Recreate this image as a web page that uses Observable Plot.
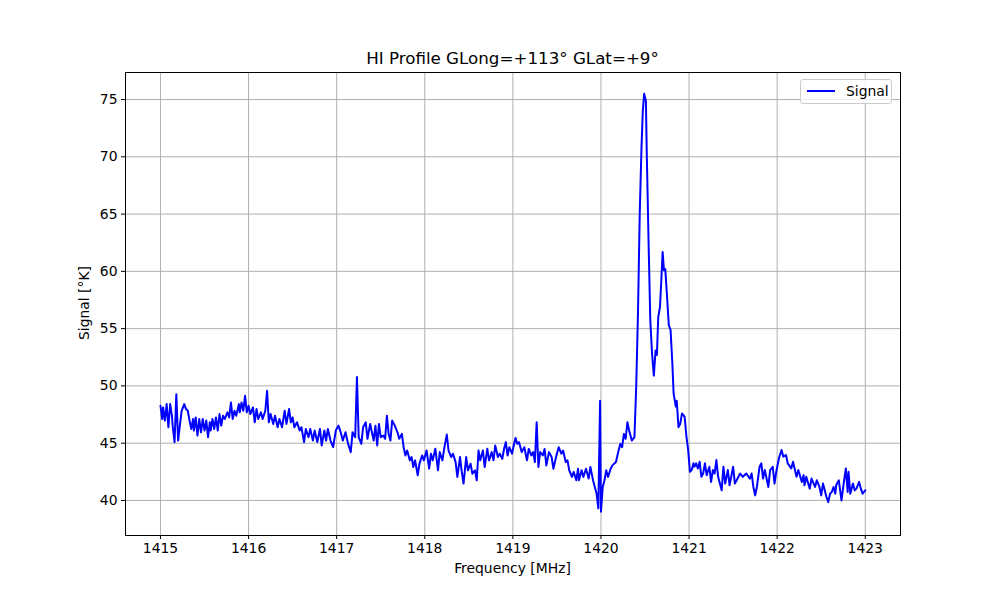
<!DOCTYPE html>
<html>
<head>
<meta charset="utf-8">
<script src="https://cdn.jsdelivr.net/npm/d3@7"></script>
<script src="https://cdn.jsdelivr.net/npm/@observablehq/plot@0.6"></script>
<style>
  html, body { margin: 0; padding: 0; background: white; }
  #wrap { position: relative; width: 1000px; height: 600px; font-family: "DejaVu Sans", sans-serif; color: black; }
  .lbl { position: absolute; white-space: nowrap; }
  #title { left: 0; width: 1025px; text-align: center; top: 48px; font-size: 16.7px; }
  #xlabel { left: 0; width: 1025px; text-align: center; top: 560px; font-size: 13.9px; }
  #ylabel { left: 84px; top: 303px; font-size: 13.9px; transform: translate(-50%, -50%) rotate(-90deg); }
  #legend { position: absolute; left: 800px; top: 79px; width: 92px; height: 25px; border: 1px solid #cccccc; border-radius: 3px; background: rgba(255,255,255,0.8); box-sizing: border-box; }
  #legend .ln { position: absolute; left: 6px; top: 10px; width: 28px; height: 2px; background: blue; }
  #legend .tx { position: absolute; left: 45px; top: 3px; font-size: 13.9px; }
</style>
</head>
<body>
<div id="wrap">
  <div id="chart"></div>
  <div class="lbl" id="title">HI Profile GLong=+113° GLat=+9°</div>
  <div class="lbl" id="xlabel">Frequency [MHz]</div>
  <div class="lbl" id="ylabel">Signal [°K]</div>
  <div id="legend"><div class="ln"></div><div class="tx">Signal</div></div>
</div>
<script>
const xTicks = [1415, 1416, 1417, 1418, 1419, 1420, 1421, 1422, 1423];
const yTicks = [40, 45, 50, 55, 60, 65, 70, 75];

const freq = [
1415.00,1415.02,1415.03,1415.05,1415.07,1415.09,1415.11,1415.13,1415.14,1415.16,
1415.18,1415.20,1415.22,1415.24,1415.27,1415.29,1415.31,1415.33,1415.35,1415.37,
1415.38,1415.40,1415.42,1415.44,1415.46,1415.48,1415.50,1415.52,1415.54,1415.56,
1415.57,1415.59,1415.61,1415.63,1415.65,1415.67,1415.69,1415.71,1415.73,1415.76,
1415.78,1415.80,1415.82,1415.84,1415.86,1415.89,1415.90,1415.92,1415.94,1415.96,
1415.98,1416.00,1416.02,1416.05,1416.07,1416.09,1416.11,1416.14,1416.16,1416.19,
1416.21,1416.23,1416.25,1416.28,1416.30,1416.33,1416.35,1416.38,1416.41,1416.43,
1416.46,1416.48,1416.50,1416.52,1416.55,1416.58,1416.60,1416.63,1416.65,1416.68,
1416.70,1416.73,1416.75,1416.78,1416.81,1416.83,1416.86,1416.88,1416.90,1416.93,
1416.96,1416.99,1417.02,
1417.04,1417.07,1417.10,1417.13,1417.16,1417.18,1417.21,1417.23,1417.25,1417.28,
1417.30,1417.33,1417.35,1417.38,1417.40,1417.42,1417.44,1417.46,1417.48,1417.50,
1417.53,1417.55,1417.57,1417.59,1417.61,1417.63,1417.66,1417.69,1417.71,1417.74,
1417.76,1417.78,1417.80,1417.83,1417.85,1417.87,1417.89,1417.92,1417.94,1417.97,
1417.99,1418.02,1418.05,1418.07,1418.09,1418.12,1418.15,1418.17,1418.20,1418.22,
1418.25,1418.27,1418.30,1418.32,1418.35,1418.37,1418.40,1418.42,1418.44,1418.47,
1418.49,1418.52,1418.54,1418.57,1418.59,1418.61,1418.63,1418.66,1418.68,1418.71,
1418.73,1418.76,1418.78,1418.80,1418.83,1418.85,1418.88,1418.90,1418.92,1418.94,
1418.96,1418.99,1419.01,1419.03,1419.05,
1419.07,1419.10,1419.13,1419.16,1419.18,1419.21,1419.23,1419.25,1419.27,1419.29,
1419.31,1419.34,1419.36,1419.38,1419.41,1419.44,1419.46,1419.49,1419.52,1419.55,
1419.57,1419.60,1419.62,1419.64,1419.67,1419.69,1419.72,1419.74,1419.75,1419.78,
1419.80,1419.83,1419.86,1419.88,1419.91,1419.93,1419.95,1419.97,1419.99,1420.00,
1420.02,1420.04,1420.06,1420.08,1420.11,1420.13,1420.17,1420.20,1420.22,1420.24,
1420.26,1420.28,1420.30,1420.32,1420.35,1420.38,
1420.40,1420.42,1420.44,1420.46,1420.475,1420.49,1420.51,1420.52,1420.54,1420.56,
1420.58,1420.60,1420.62,1420.635,1420.65,1420.67,1420.685,1420.70,1420.715,1420.73,
1420.75,1420.77,1420.79,1420.81,1420.825,1420.85,1420.86,1420.88,1420.90,1420.92,
1420.95,1420.97,1420.99,
1421.01,1421.03,1421.05,1421.06,1421.08,1421.10,1421.12,1421.14,1421.16,1421.18,
1421.20,1421.23,1421.25,1421.27,1421.29,1421.31,1421.33,1421.37,1421.39,1421.41,
1421.44,1421.46,1421.50,1421.52,1421.54,1421.58,1421.61,1421.65,1421.69,1421.71,
1421.73,1421.75,1421.77,1421.80,1421.82,1421.84,1421.86,1421.90,1421.92,1421.95,
1421.97,1421.99,1422.02,1422.05,1422.07,1422.10,1422.12,1422.16,1422.18,1422.22,
1422.24,1422.28,1422.30,1422.31,1422.33,1422.37,1422.39,1422.43,1422.45,1422.48,
1422.50,1422.52,1422.56,1422.58,1422.60,1422.62,1422.64,1422.66,1422.67,1422.70,
1422.73,1422.76,1422.78,1422.80,1422.81,1422.83,1422.86,1422.88,1422.90,1422.93,
1422.95,1422.97,1423.00
];

const signal = [
48.27,47.11,48.12,46.97,48.41,46.39,48.41,47.40,46.39,45.09,
49.28,45.23,46.53,47.83,48.41,47.98,47.83,46.97,46.24,47.11,
46.10,47.25,45.66,47.11,45.95,47.11,46.10,46.97,45.52,46.82,
46.10,47.11,46.24,47.25,46.10,47.54,46.53,47.40,47.11,47.69,
47.25,48.55,47.11,47.83,47.40,48.41,47.69,48.55,47.83,49.13,
47.69,48.27,47.54,48.12,46.82,47.98,47.11,47.69,47.11,47.83,
49.57,46.82,47.54,46.68,47.40,46.39,47.11,46.39,47.83,46.68,
47.98,46.82,47.25,46.39,46.82,46.10,46.39,45.09,46.24,45.52,
46.24,45.23,46.10,45.09,46.24,44.80,46.10,45.23,46.24,45.23,
44.65,46.10,46.53,
46.10,45.23,45.95,44.94,44.22,45.95,45.52,50.78,45.52,44.94,
46.39,46.82,45.38,46.68,45.95,45.23,46.53,44.80,46.68,45.52,
45.66,45.38,47.40,45.81,45.23,46.97,46.53,45.95,45.38,45.81,
44.65,43.93,44.36,43.50,43.79,42.92,43.50,42.20,43.21,43.93,
43.50,44.36,42.77,44.08,43.50,44.51,42.63,44.22,43.50,44.51,
45.75,44.36,43.79,44.08,43.35,42.05,43.79,42.49,41.47,43.79,
42.63,43.21,42.34,42.63,41.76,44.36,43.50,44.36,42.92,44.51,
43.50,44.22,43.50,44.80,43.79,44.08,43.64,44.51,45.09,43.93,
44.65,44.08,44.80,45.46,44.94,
45.09,44.22,44.65,43.50,44.50,43.93,44.22,43.35,46.82,42.92,
44.22,43.93,44.50,43.06,44.22,43.79,42.77,43.79,44.65,44.08,
44.36,43.35,43.50,42.63,42.05,42.49,41.76,42.77,41.76,42.63,
42.05,42.77,41.91,42.92,41.76,41.18,40.61,39.31,48.70,39.02,
41.18,41.76,42.63,42.05,42.77,43.06,43.35,44.36,44.94,44.65,
45.81,45.38,46.82,46.10,45.23,45.52,
49.90,56.30,65.00,70.80,74.00,75.50,74.90,70.30,62.70,55.70,
52.80,50.90,53.10,52.70,56.00,56.90,59.20,61.70,60.10,60.20,
57.80,55.30,54.90,52.00,49.30,48.20,48.70,46.40,46.70,47.60,
47.30,45.60,44.40,
42.50,42.65,43.24,42.94,43.24,42.79,43.38,42.06,42.35,43.24,
42.21,42.94,41.62,42.65,42.35,43.53,42.06,40.88,42.94,41.47,
42.65,41.32,42.94,41.47,41.76,42.35,42.06,42.35,41.91,42.35,
41.18,40.44,41.18,42.94,43.24,41.91,42.65,41.18,42.65,42.94,
41.47,42.50,43.68,44.41,43.82,43.97,43.24,42.79,43.38,42.06,
42.65,41.62,42.21,41.32,42.06,41.03,41.91,41.18,41.76,41.18,
40.44,41.47,40.29,39.85,40.59,40.74,41.18,40.59,41.32,41.76,
40.00,41.76,42.79,40.74,42.50,40.59,41.47,40.88,41.03,41.62,
41.03,40.59,40.88
];

const data = freq.map((f, i) => ({f, s: signal[i]}));

const chart = Plot.plot({
  width: 1000,
  height: 600,
  marginLeft: 125,
  marginRight: 100,
  marginTop: 72,
  marginBottom: 65,
  style: {fontFamily: "DejaVu Sans, sans-serif", fontSize: "13.9px", color: "black", background: "white"},
  x: {domain: [1414.603, 1423.4], label: null},
  y: {domain: [36.94, 77.36], label: null},
  marks: [
    Plot.gridX(xTicks, {stroke: "#b0b0b0", strokeOpacity: 1, strokeWidth: 1}),
    Plot.gridY(yTicks, {stroke: "#b0b0b0", strokeOpacity: 1, strokeWidth: 1}),
    Plot.line(data, {x: "f", y: "s", stroke: "blue", strokeWidth: 2}),
    Plot.frame({stroke: "black", strokeWidth: 1}),
    Plot.axisX(xTicks, {tickSize: 4, tickPadding: 4, tickFormat: d => String(d), label: null, fontSize: 13.9}),
    Plot.axisY(yTicks, {tickSize: 4, tickPadding: 4, tickFormat: d => String(d), label: null, fontSize: 13.9})
  ]
});
document.getElementById("chart").appendChild(chart);
</script>
</body>
</html>
